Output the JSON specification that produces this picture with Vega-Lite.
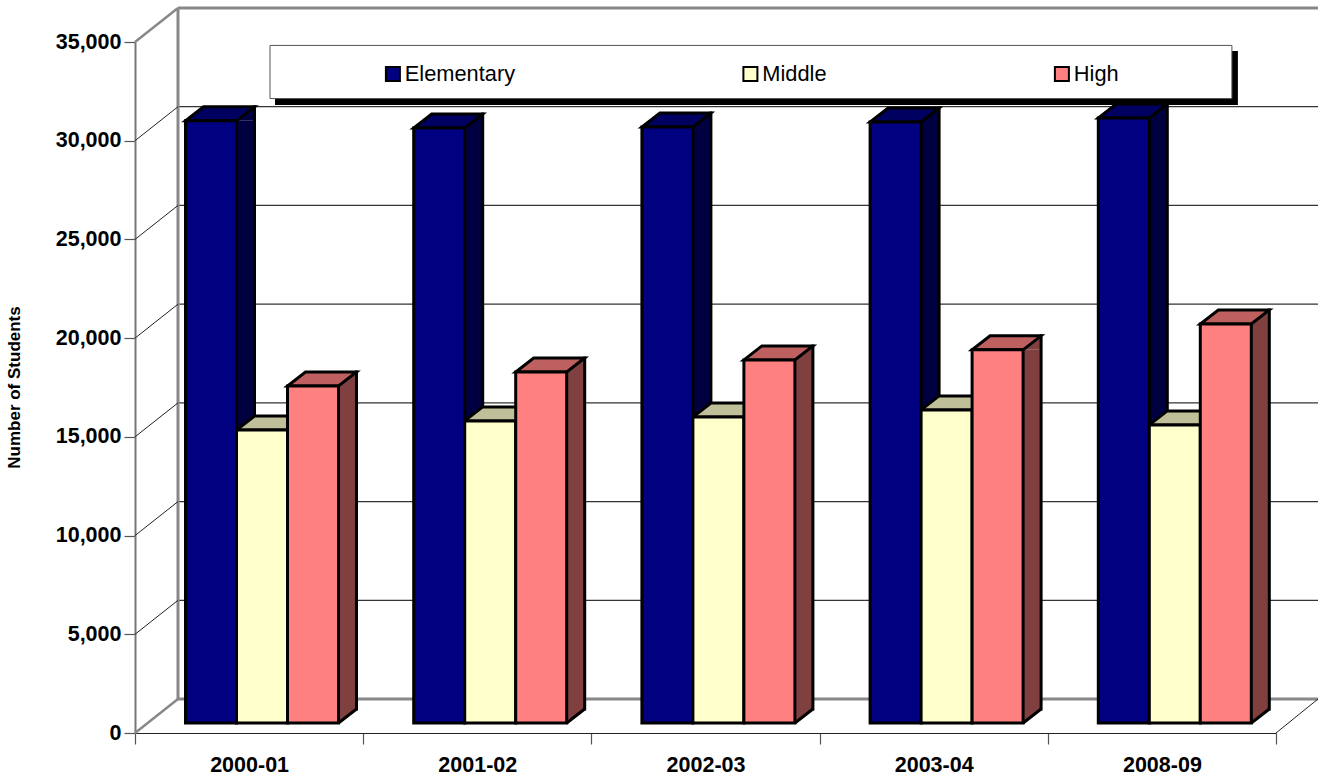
{
  "$schema": "https://vega.github.io/schema/vega-lite/v6.json",
  "description": "Student enrolment by school level, drawn as oblique 3D columns on a walled chart.",
  "width": 1318,
  "height": 776,
  "padding": 0,
  "autosize": {"type": "none"},
  "background": "white",
  "config": {"view": {"stroke": null}, "font": "Liberation Sans"},
  "resolve": {"scale": {"xOffset": "independent"}},
  "datasets": {
    "enrolment": [
      {"year": "2000-01", "level": "Elementary", "students": 30500},
      {"year": "2000-01", "level": "Middle", "students": 14840},
      {"year": "2000-01", "level": "High", "students": 17070},
      {"year": "2001-02", "level": "Elementary", "students": 30140},
      {"year": "2001-02", "level": "Middle", "students": 15300},
      {"year": "2001-02", "level": "High", "students": 17780},
      {"year": "2002-03", "level": "Elementary", "students": 30190},
      {"year": "2002-03", "level": "Middle", "students": 15500},
      {"year": "2002-03", "level": "High", "students": 18390},
      {"year": "2003-04", "level": "Elementary", "students": 30440},
      {"year": "2003-04", "level": "Middle", "students": 15860},
      {"year": "2003-04", "level": "High", "students": 18900},
      {"year": "2008-09", "level": "Elementary", "students": 30650},
      {"year": "2008-09", "level": "Middle", "students": 15100},
      {"year": "2008-09", "level": "High", "students": 20210}
    ],
    "ticks": [
      {"students": 0}, {"students": 5000}, {"students": 10000}, {"students": 15000},
      {"students": 20000}, {"students": 25000}, {"students": 30000}, {"students": 35000}
    ],
    "frame": [{"part": "legend frame"}]
  },
  "data": {"name": "enrolment"},
  "layer": [
    {
      "data": {"name": "ticks"},
      "mark": {"type": "rule", "xOffset": 43, "yOffset": -24},
      "encoding": {
        "x": {"datum": "2000-01", "type": "nominal", "bandPosition": 0,
              "scale": {"domain": ["2000-01", "2001-02", "2002-03", "2003-04", "2008-09"], "range": [135, 1276], "paddingInner": 0, "paddingOuter": 0},
              "axis": {"orient": "bottom", "offset": -43, "title": null, "tickBand": "extent", "labelAngle": 0,
                       "labelFont": "Liberation Sans", "labelFontWeight": "bold", "labelFontSize": 21.5, "labelColor": "black",
                       "labelPadding": 10, "domainColor": "#222222", "domainWidth": 1.2, "tickColor": "#555555", "tickWidth": 1.2, "tickSize": 11, "grid": false}},
        "x2": {"value": 1318},
        "y": {"field": "students", "type": "quantitative",
              "scale": {"domain": [0, 35000], "range": [723, 32], "nice": false, "zero": false},
              "axis": {"orient": "left", "offset": -135, "position": 10, "values": [0, 5000, 10000, 15000, 20000, 25000, 30000, 35000],
                       "labelExpr": "format(datum.value, ',')", "grid": false, "labelFont": "Liberation Sans", "labelFontWeight": "bold", "labelFontSize": 21.5, "labelColor": "black",
                       "labelPadding": 3, "domainColor": "#777777", "domainWidth": 2, "tickColor": "#555555", "tickWidth": 1.2, "tickSize": 11,
                       "title": "Number of Students", "titleFont": "Liberation Sans", "titleFontWeight": "bold", "titleFontSize": 17, "titleColor": "black",
                       "titleAngle": -90, "titleX": -121, "titleY": 377, "titleAlign": "center", "titleBaseline": "middle"}},
        "stroke": {"condition": {"test": "datum.students === 0 || datum.students === 35000", "value": "#888888"}, "value": "#333333"},
        "strokeWidth": {"condition": {"test": "datum.students === 0 || datum.students === 35000", "value": 3}, "value": 1.2}
      }
    },
    {
      "data": {"name": "frame"},
      "mark": {"type": "rule", "xOffset": 43, "yOffset": -24, "y2Offset": -24, "stroke": "#888888", "strokeWidth": 3},
      "encoding": {
        "x": {"datum": "2000-01", "type": "nominal", "bandPosition": 0},
        "y": {"datum": 0, "type": "quantitative"},
        "y2": {"datum": 35000}
      }
    },
    {
      "data": {"name": "ticks"},
      "mark": {"type": "point", "shape": "M0,0L43,-34", "size": 4, "filled": false, "opacity": 1, "yOffset": 10},
      "encoding": {
        "x": {"datum": "2000-01", "type": "nominal", "bandPosition": 0},
        "y": {"field": "students", "type": "quantitative"},
        "stroke": {"condition": {"test": "datum.students === 0 || datum.students === 35000", "value": "#888888"}, "value": "#222222"},
        "strokeWidth": {"condition": {"test": "datum.students === 0 || datum.students === 35000", "value": 2.5}, "value": 1}
      }
    },
    {
      "data": {"name": "frame"},
      "mark": {"type": "point", "shape": "M0,0L42,-34", "size": 4, "filled": false, "opacity": 1, "yOffset": 10, "stroke": "#222222", "strokeWidth": 1},
      "encoding": {
        "x": {"datum": "2008-09", "type": "nominal", "bandPosition": 1},
        "y": {"datum": 0, "type": "quantitative"}
      }
    },
    {
      "mark": {"type": "bar", "width": 18, "y2Offset": -14, "stroke": null},
      "encoding": {
        "x": {"field": "year", "type": "nominal"},
        "xOffset": {"field": "level", "type": "nominal", "scale": {"type": "band", "domain": ["Elementary", "Middle", "High"], "range": [85, 238], "paddingInner": 0, "paddingOuter": 0}},
        "y": {"field": "students", "type": "quantitative", "stack": null},
        "y2": {"datum": 0},
        "fill": {"condition": [
          {"test": "datum.level === 'Elementary'", "value": "#000040"},
          {"test": "datum.level === 'Middle'", "value": "#808066"}
        ], "value": "#804040"}
      }
    },
    {
      "mark": {"type": "point", "shape": "M25.5,0L43.5,0L43.5,-14Z", "size": 4, "filled": true, "opacity": 1, "strokeWidth": 0},
      "encoding": {
        "x": {"field": "year", "type": "nominal"},
        "xOffset": {"field": "level", "type": "nominal", "scale": {"type": "band", "domain": ["Elementary", "Middle", "High"], "range": [50.5, 203.5], "paddingInner": 0, "paddingOuter": 0}},
        "y": {"field": "students", "type": "quantitative"},
        "fill": {"condition": [
          {"test": "datum.level === 'Elementary'", "value": "#000040"},
          {"test": "datum.level === 'Middle'", "value": "#808066"}
        ], "value": "#804040"}
      }
    },
    {
      "mark": {"type": "point", "shape": "M25.5,0L25.5,-14L43.5,-14Z", "size": 4, "filled": true, "opacity": 1, "strokeWidth": 0},
      "encoding": {
        "x": {"field": "year", "type": "nominal"},
        "xOffset": {"field": "level", "type": "nominal", "scale": {"type": "band", "domain": ["Elementary", "Middle", "High"], "range": [50.5, 203.5], "paddingInner": 0, "paddingOuter": 0}},
        "y": {"datum": 0, "type": "quantitative"},
        "fill": {"condition": [
          {"test": "datum.level === 'Elementary'", "value": "#000040"},
          {"test": "datum.level === 'Middle'", "value": "#808066"}
        ], "value": "#804040"}
      }
    },
    {
      "mark": {"type": "rule", "yOffset": -14, "y2Offset": -14, "stroke": "black", "strokeWidth": 3, "strokeCap": "square"},
      "encoding": {
        "x": {"field": "year", "type": "nominal"},
        "xOffset": {"field": "level", "type": "nominal", "scale": {"type": "band", "domain": ["Elementary", "Middle", "High"], "range": [94, 247], "paddingInner": 0, "paddingOuter": 0}},
        "y": {"field": "students", "type": "quantitative"},
        "y2": {"datum": 0}
      }
    },
    {
      "mark": {"type": "point", "shape": "M25.5,0L43.5,-14", "size": 4, "filled": false, "opacity": 1, "stroke": "black", "strokeWidth": 3},
      "encoding": {
        "x": {"field": "year", "type": "nominal"},
        "xOffset": {"field": "level", "type": "nominal", "scale": {"type": "band", "domain": ["Elementary", "Middle", "High"], "range": [50.5, 203.5], "paddingInner": 0, "paddingOuter": 0}},
        "y": {"datum": 0, "type": "quantitative"}
      }
    },
    {
      "mark": {"type": "point", "shape": "M-25.5,0L25.5,0L43.5,-14L-7.5,-14Z", "size": 4, "filled": true, "opacity": 1, "stroke": "black", "strokeWidth": 3},
      "encoding": {
        "x": {"field": "year", "type": "nominal"},
        "xOffset": {"field": "level", "type": "nominal", "scale": {"type": "band", "domain": ["Elementary", "Middle", "High"], "range": [50.5, 203.5], "paddingInner": 0, "paddingOuter": 0}},
        "y": {"field": "students", "type": "quantitative"},
        "fill": {"condition": [
          {"test": "datum.level === 'Elementary'", "value": "#000060"},
          {"test": "datum.level === 'Middle'", "value": "#BFBF99"}
        ], "value": "#BF6060"}
      }
    },
    {
      "mark": {"type": "bar", "stroke": "black", "strokeWidth": 3},
      "encoding": {
        "x": {"field": "year", "type": "nominal"},
        "xOffset": {"field": "level", "type": "nominal", "scale": {"type": "band", "domain": ["Elementary", "Middle", "High"], "range": [50.5, 203.5], "paddingInner": 0, "paddingOuter": 0}},
        "y": {"field": "students", "type": "quantitative", "stack": null},
        "color": {"field": "level", "type": "nominal",
                  "scale": {"domain": ["Elementary", "Middle", "High"], "range": ["#000080", "#FFFFCC", "#FF8080"]},
                  "legend": {"orient": "none", "legendX": 382, "legendY": 63, "direction": "horizontal", "columns": 3, "title": null,
                             "symbolType": "square", "symbolSize": 196, "symbolStrokeColor": "black", "symbolStrokeWidth": 2,
                             "labelFont": "Liberation Sans", "labelFontSize": 21.8, "labelColor": "black", "labelOffset": 1, "labelLimit": 300,
                             "columnPadding": 222.5, "zindex": 1}}
      }
    },
    {
      "data": {"name": "frame"},
      "mark": {"type": "rect", "fill": "black", "xOffset": 140, "x2Offset": 76},
      "encoding": {
        "x": {"datum": "2000-01", "type": "nominal", "bandPosition": 0},
        "x2": {"datum": "2008-09"},
        "y": {"datum": 34040, "type": "quantitative"},
        "y2": {"datum": 31300}
      }
    },
    {
      "data": {"name": "frame"},
      "mark": {"type": "rect", "fill": "white", "stroke": "#555555", "strokeWidth": 1, "xOffset": 135, "x2Offset": 70},
      "encoding": {
        "x": {"datum": "2000-01", "type": "nominal", "bandPosition": 0},
        "x2": {"datum": "2008-09"},
        "y": {"datum": 34320, "type": "quantitative"},
        "y2": {"datum": 31630}
      }
    }
  ]
}
